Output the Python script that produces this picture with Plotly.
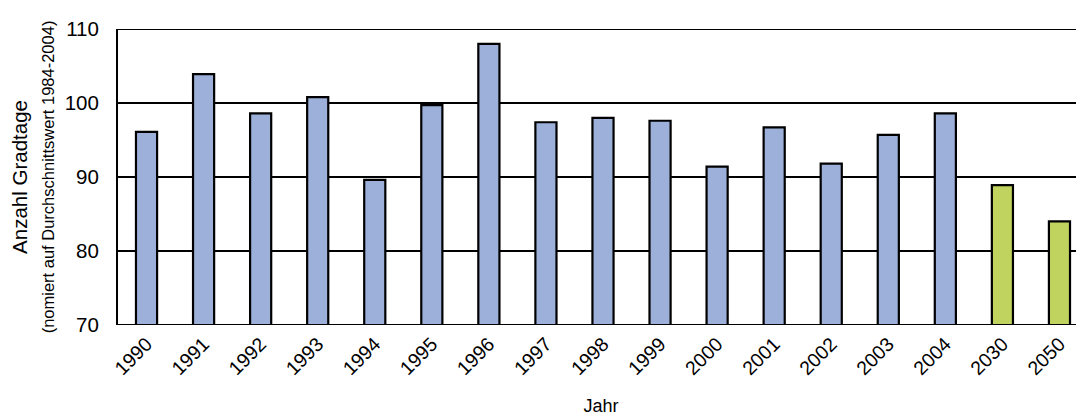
import plotly.graph_objects as go

years = ["1990", "1991", "1992", "1993", "1994", "1995", "1996", "1997", "1998",
         "1999", "2000", "2001", "2002", "2003", "2004", "2030", "2050"]
values = [96.1, 103.9, 98.6, 100.8, 89.6, 99.7, 108.0, 97.4, 98.0,
          97.6, 91.4, 96.7, 91.8, 95.7, 98.6, 88.9, 84.0]
kind = ["hist"] * 15 + ["proj"] * 2

colors = ["#9DB0D9" if k == "hist" else "#BFD35E" for k in kind]

fig = go.Figure(go.Bar(
    x=years, y=values,
    marker=dict(color=colors, line=dict(color="#000000", width=2.2)),
    width=0.37,
))

font = "Liberation Sans, Arial, sans-serif"
# page body has an 8px default margin; figure sized to fit the window
fig.update_layout(
    width=1076, height=408,
    margin=dict(l=110, r=0, t=21, b=91),
    paper_bgcolor="white", plot_bgcolor="white",
    showlegend=False,
    font=dict(family=font, color="#000000", size=19),
    xaxis=dict(
        range=[-0.5, 16.43], automargin=False,
        tickangle=-45, tickfont=dict(size=19.5),
        showline=False, showgrid=False, ticks="",
        title=dict(text="Jahr", font=dict(size=18), standoff=22),
    ),
    yaxis=dict(
        range=[70, 110], dtick=10, automargin=False,
        showgrid=True, gridcolor="#000000", gridwidth=2,
        showline=True, linecolor="#000000", linewidth=2,
        zeroline=False, ticks="", tickfont=dict(size=20.5),
        title=dict(text="Anzahl Gradtage<br><span style='font-size:16.5px'>(nomiert auf Durchschnittswert 1984-2004)</span>",
                   font=dict(size=20.5), standoff=6),
    ),
)
fig.update_xaxes(ticklabelstandoff=3)
fig.update_yaxes(ticklabelstandoff=13)

for yv in (70, 110):
    fig.add_shape(type="line", xref="paper", yref="y", x0=0, x1=1, y0=yv, y1=yv,
                  line=dict(color="#000000", width=2), layer="above" if yv == 70 else "below")

fig.write_html("out.html")
